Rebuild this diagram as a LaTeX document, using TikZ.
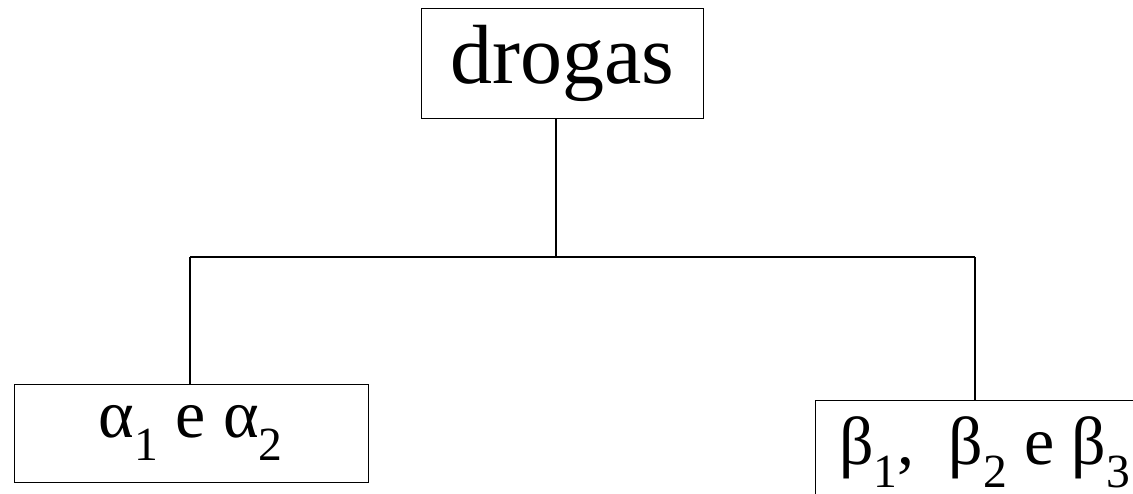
\documentclass[tikz,border=0pt]{standalone}
\usepackage{fontspec}
\setmainfont{Liberation Serif}
\begin{document}
\begin{tikzpicture}[x=1pt,y=-1pt,
  box/.style={draw=black,line width=1pt,rectangle,inner sep=0pt,font=\fontsize{84}{96}\selectfont},
  gbox/.style={draw=black,line width=1pt,rectangle,inner sep=0pt,font=\fontsize{68}{80}\selectfont},
  conn/.style={draw=black,line width=1.6pt}]
\useasboundingbox (0,0) rectangle (1133,493);
\clip (0,0) rectangle (1133,493);
\node[box,minimum width=282pt,minimum height=110pt] (top) at (562,63) {drogas};
\node[gbox,minimum width=354pt,minimum height=98pt] (a) at (191,433) {α\textsubscript{1} e α\textsubscript{2}};
\node[gbox,minimum width=340pt,minimum height=104pt] (b) at (985,452) {β\textsubscript{1}, \ β\textsubscript{2} e β\textsubscript{3}};
\coordinate (j) at (556,257);
\coordinate (jl) at (190,257);
\coordinate (jr) at (975,257);
\draw[conn] (top.south -| j) -- (j);
\draw[conn] (jl) -- (jr);
\draw[conn] (jl) -- (jl |- a.north);
\draw[conn] (jr) -- (jr |- b.north);
\end{tikzpicture}
\end{document}
